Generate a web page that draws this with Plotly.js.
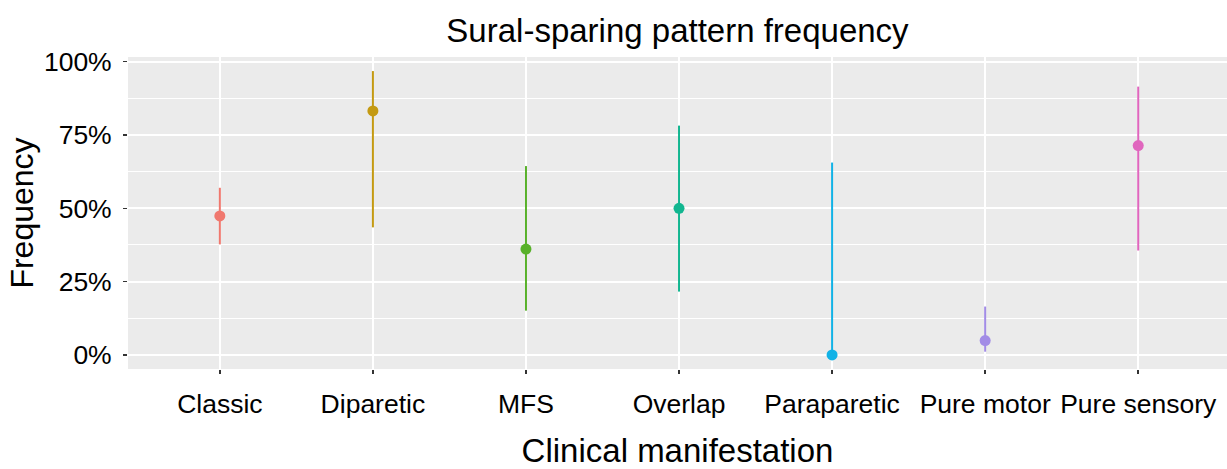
<!DOCTYPE html>
<html>
<head>
<meta charset="utf-8">
<script src="https://cdn.plot.ly/plotly-3.0.1.min.js"></script>
<style>html,body{margin:0;padding:0;background:#fff;}#chart{width:1227px;height:469px;}</style>
</head>
<body>
<div id="chart"></div>
<script>
const categories = ["Classic", "Diparetic", "MFS", "Overlap", "Paraparetic", "Pure motor", "Pure sensory"];
const frequency = [0.474, 0.832, 0.361, 0.500, 0.000, 0.049, 0.714];
const upperCI  = [0.570, 0.968, 0.644, 0.782, 0.656, 0.165, 0.915];
const lowerCI  = [0.377, 0.435, 0.151, 0.216, 0.000, 0.011, 0.356];
const colors = ["#F0786E", "#C49A12", "#58B12A", "#12B690", "#12B2E6", "#A28CE6", "#E066BE"];
const yTickVals = [0, 0.25, 0.5, 0.75, 1];
const yTickText = ["0%", "25%", "50%", "75%", "100%"];

const traces = categories.map((c, i) => ({
  type: "scatter",
  mode: "markers",
  x: [c],
  y: [frequency[i]],
  marker: {color: colors[i], size: 11},
  error_y: {
    type: "data",
    symmetric: false,
    array: [upperCI[i] - frequency[i]],
    arrayminus: [frequency[i] - lowerCI[i]],
    width: 0,
    thickness: 2,
    color: colors[i]
  },
  showlegend: false,
  hoverinfo: "x+y"
}));

const font = "Liberation Sans, Arial, sans-serif";
const layout = {
  width: 1227,
  height: 469,
  margin: {l: 128, r: 0, t: 57, b: 100},
  paper_bgcolor: "#ffffff",
  plot_bgcolor: "#EBEBEB",
  font: {family: font, color: "#000"},
  title: {
    text: "Sural-sparing pattern frequency",
    font: {family: font, size: 33, color: "#000"},
    x: 0.5, xref: "paper", xanchor: "center",
    y: 0.935, yref: "container", yanchor: "middle"
  },
  xaxis: {
    type: "category",
    categoryorder: "array",
    categoryarray: categories,
    range: [-0.6, 6.58],
    showgrid: true,
    gridcolor: "#ffffff",
    gridwidth: 2,
    zeroline: false,
    showline: false,
    ticks: "outside",
    ticklen: 4,
    tickwidth: 1.5,
    tickcolor: "#333333",
    ticklabelstandoff: 7,
    tickfont: {family: font, size: 26.5, color: "#000"},
    title: {text: "Clinical manifestation", font: {family: font, size: 33, color: "#000"}, standoff: 30},
    fixedrange: true
  },
  yaxis: {
    range: [-0.048, 1.016],
    tickvals: yTickVals,
    ticktext: yTickText,
    showgrid: true,
    gridcolor: "#ffffff",
    gridwidth: 2,
    zeroline: false,
    showline: false,
    ticks: "outside",
    ticklen: 4,
    tickwidth: 1.5,
    tickcolor: "#333333",
    ticklabelstandoff: 6,
    tickfont: {family: font, size: 26.5, color: "#000"},
    minor: {tick0: 0.125, dtick: 0.25, showgrid: true, gridcolor: "#ffffff", gridwidth: 1, ticks: ""},
    title: {text: "Frequency", font: {family: font, size: 32, color: "#000"}, standoff: 0},
    fixedrange: true
  }
};

Plotly.newPlot("chart", traces, layout, {displayModeBar: false, staticPlot: true});
</script>
</body>
</html>
